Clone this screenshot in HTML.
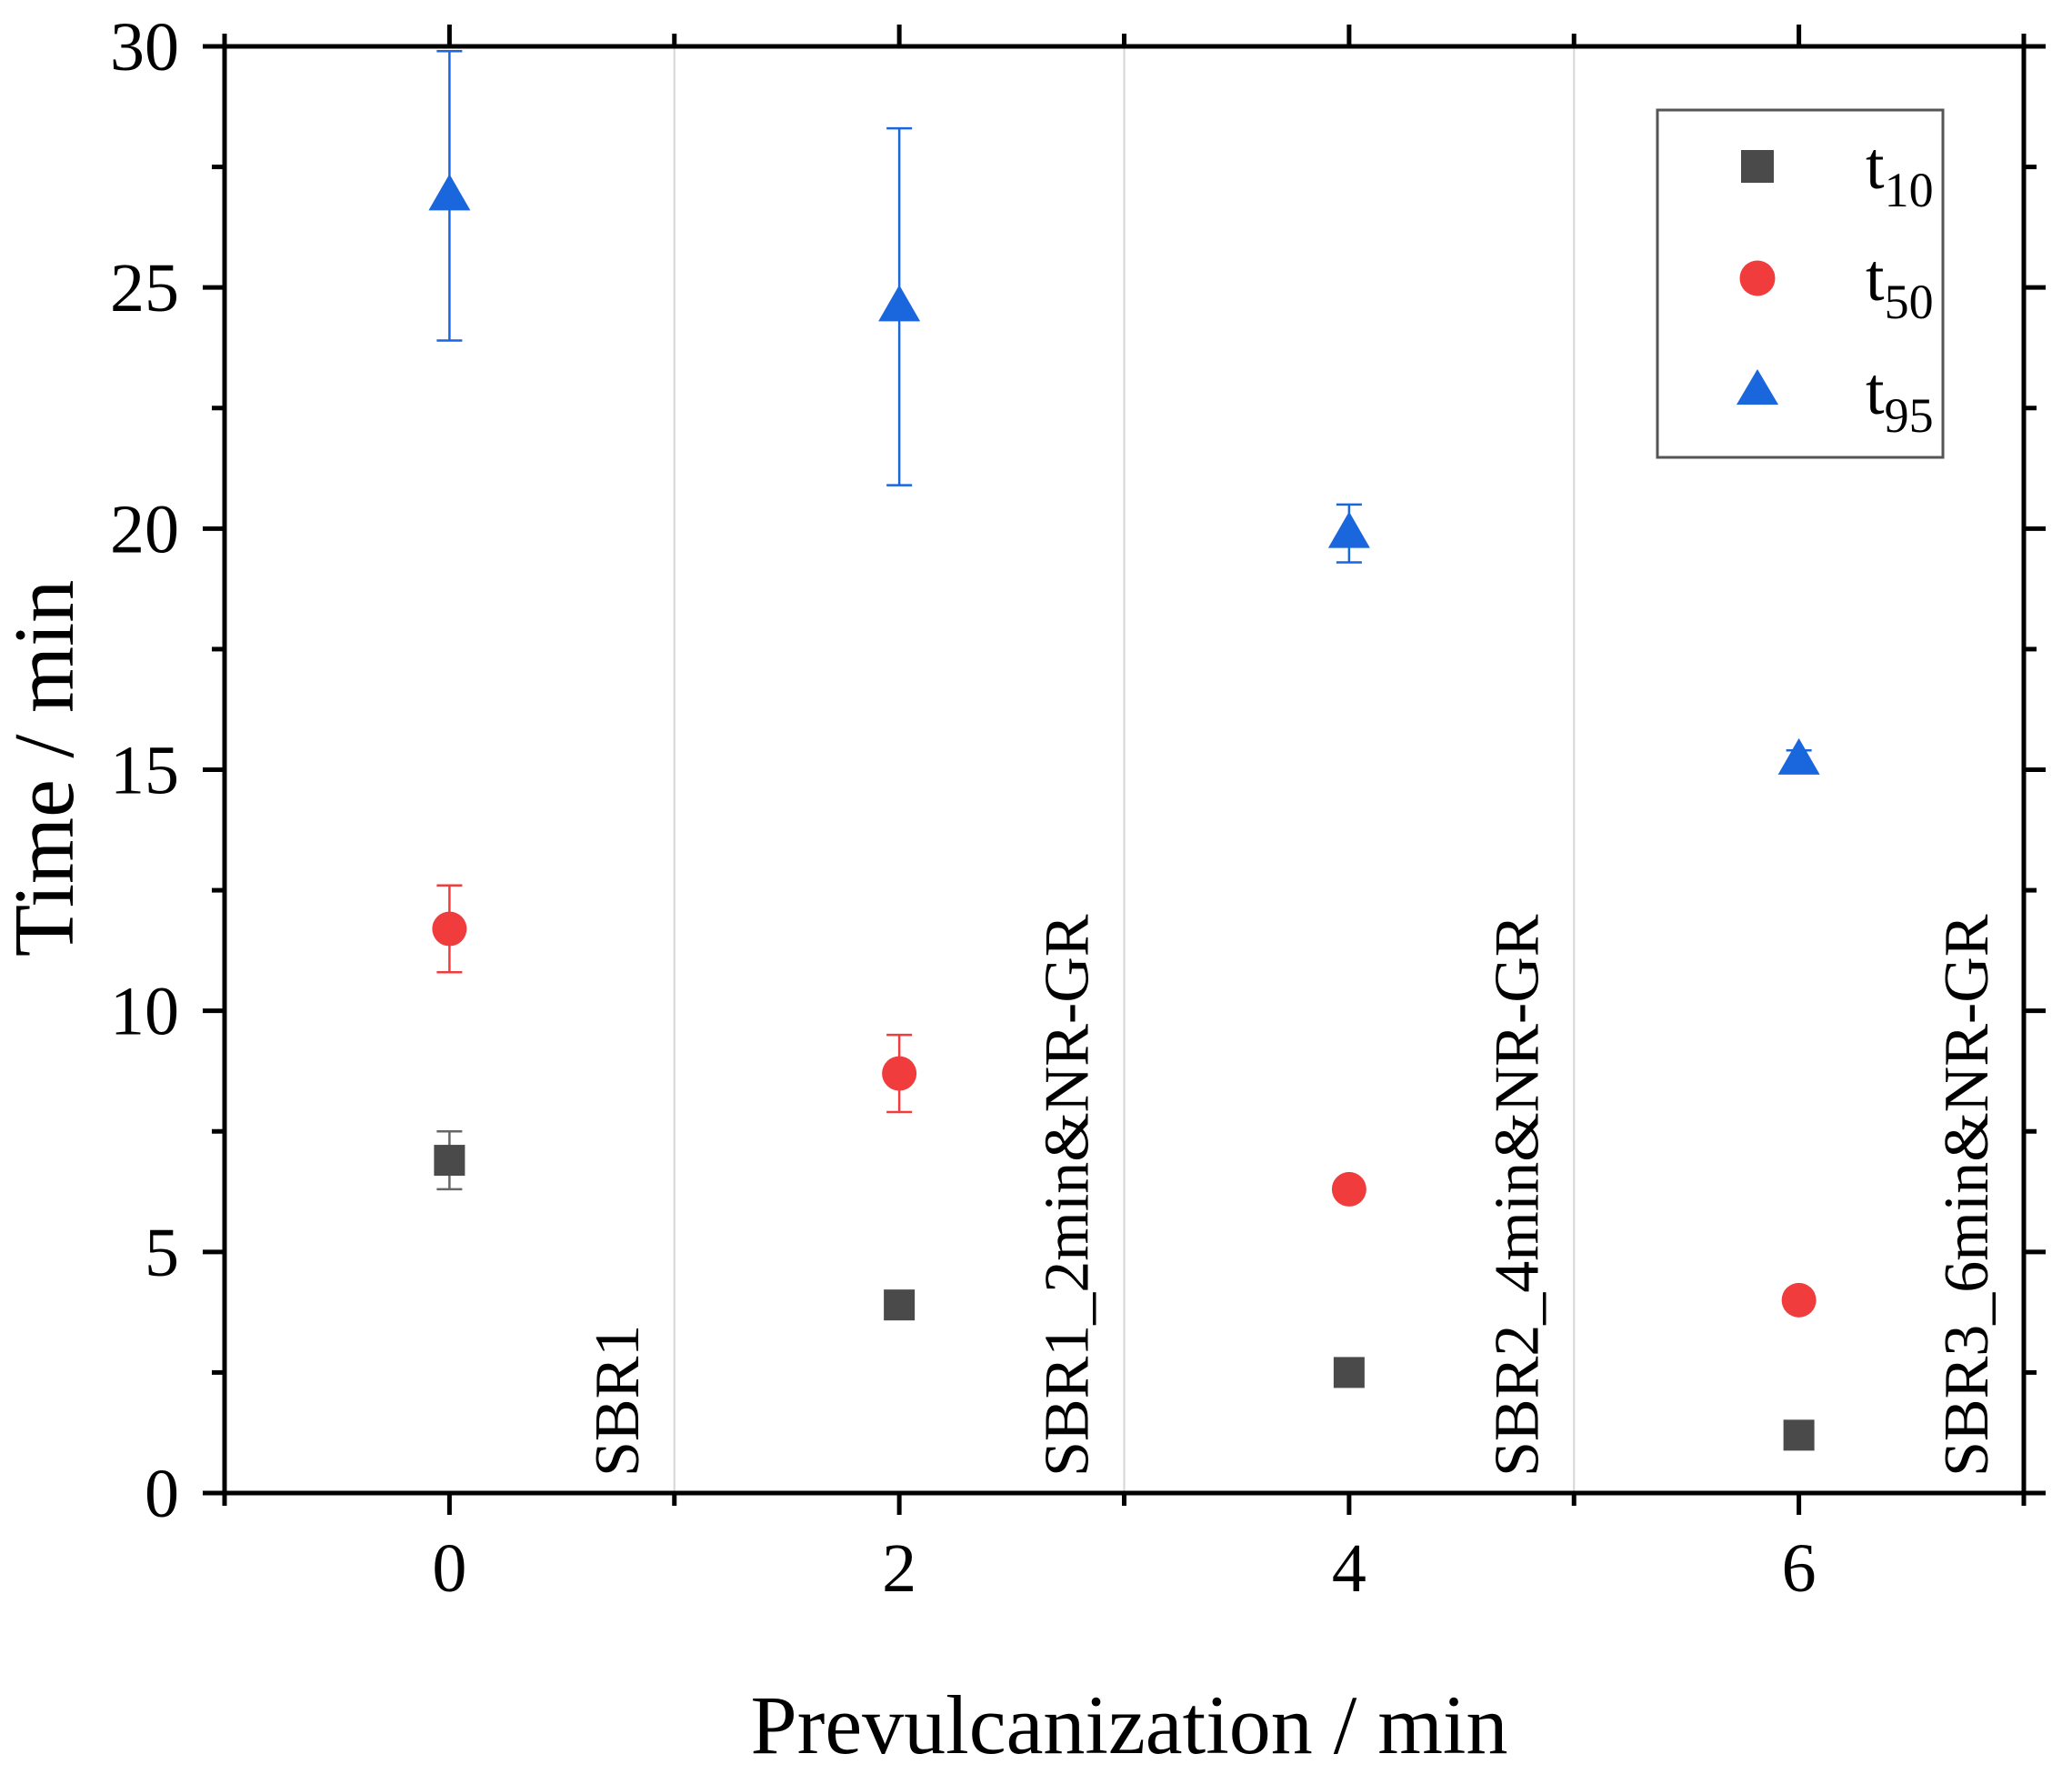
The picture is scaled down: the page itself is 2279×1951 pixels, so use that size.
<!DOCTYPE html>
<html><head><meta charset="utf-8"><style>
html,body{margin:0;padding:0;background:#fff;}
svg{display:block;}
text{font-family:"Liberation Serif",serif;fill:#000;}
</style></head><body>
<svg id="chart" width="2279" height="1951" viewBox="0 0 2279 1951" xmlns="http://www.w3.org/2000/svg">
<g id="grid"></g>
<g id="axes"></g>
<g id="marks"></g>
<g id="legend">
  <rect x="1823" y="121" width="314" height="382" fill="#fff" stroke="#555" stroke-width="3"/>
  <rect x="1915" y="165" width="36" height="36" fill="#4a4a4a"/>
  <text x="2052" y="207" font-size="74">t<tspan font-size="54" dy="20">10</tspan></text>
  <circle cx="1933" cy="306" r="19.5" fill="#f03c3c"/>
  <text x="2052" y="330" font-size="74">t<tspan font-size="54" dy="20">50</tspan></text>
  <polygon points="1933,406 1956,445 1910,445" fill="#1a66dd"/>
  <text x="2052" y="455" font-size="74">t<tspan font-size="54" dy="20">95</tspan></text>
</g>
<text transform="translate(80,845) rotate(-90)" text-anchor="middle" font-size="94">Time / min</text>
<text x="1242" y="1928" text-anchor="middle" font-size="92">Prevulcanization / min</text>
</svg>
<script>
const xValues = [0, 2, 4, 6];
const t10 = [6.9, 3.9, 2.5, 1.2];
const t10Err = [0.6, 0.1, 0.1, 0.1];
const t50 = [11.7, 8.7, 6.3, 4.0];
const t50Err = [0.9, 0.8, 0.1, 0.1];
const t95 = [26.9, 24.6, 19.9, 15.2];
const t95Err = [3.0, 3.7, 0.6, 0.2];
const xTickLabels = ["0", "2", "4", "6"];
const yTickValues = [0, 5, 10, 15, 20, 25, 30];
const sampleLabels = ["SBR1", "SBR1_2min&NR-GR", "SBR2_4min&NR-GR", "SBR3_6min&NR-GR"];

const L = 247, R = 2226, T = 51, B = 1642;
const xMin = -1, xMax = 7, yMin = 0, yMax = 30;
function sx(v){ return L + (v - xMin) / (xMax - xMin) * (R - L); }
function sy(v){ return B - (v - yMin) / (yMax - yMin) * (B - T); }
const NS = "http://www.w3.org/2000/svg";
function mk(tag, attrs, parent){
  const e = document.createElementNS(NS, tag);
  for (const k in attrs) e.setAttribute(k, attrs[k]);
  parent.appendChild(e);
  return e;
}
const grid = document.getElementById('grid');
const axes = document.getElementById('axes');
const marks = document.getElementById('marks');

[1, 3, 5].forEach(v => {
  const l = mk('line', {x1: sx(v), x2: sx(v), y1: T, y2: B, stroke: '#d6d6d6', 'stroke-width': 2}, grid);
  
  
});

const frame = mk('rect', {x: L, y: T, width: R - L, height: B - T, fill: 'none', stroke: '#000', 'stroke-width': 5}, axes);



for (let v = 0; v <= 30; v += 2.5) {
  const major = (v % 5 === 0);
  const len = major ? 24 : 14;
  const t1 = mk('line', {x1: L - len, x2: L, y1: sy(v), y2: sy(v), stroke: '#000', 'stroke-width': 5}, axes);
  
  
  const t2 = mk('line', {x1: R, x2: R + len, y1: sy(v), y2: sy(v), stroke: '#000', 'stroke-width': 5}, axes);
  
  
}
yTickValues.forEach(v => {
  const t = mk('text', {x: L - 50, y: sy(v) + 26, 'text-anchor': 'end', 'font-size': 76}, axes);
  t.textContent = String(v);
  
  
});

for (let v = -1; v <= 7; v += 1) {
  const major = (v % 2 === 0);
  const len = major ? 24 : 14;
  const t1 = mk('line', {x1: sx(v), x2: sx(v), y1: B, y2: B + len, stroke: '#000', 'stroke-width': 5}, axes);
  
  
  const t2 = mk('line', {x1: sx(v), x2: sx(v), y1: T - len, y2: T, stroke: '#000', 'stroke-width': 5}, axes);
  
  
}
xValues.forEach((v, i) => {
  const t = mk('text', {x: sx(v), y: B + 108, 'text-anchor': 'middle', 'font-size': 76}, axes);
  t.textContent = xTickLabels[i];
  
  
});

xValues.forEach((v, i) => {
  const x = sx(v + 0.75) + 22, y = B - 18;
  const t = mk('text', {transform: 'translate(' + x + ',' + y + ') rotate(-90)', 'font-size': 70}, axes);
  t.textContent = sampleLabels[i];
  
  
});

function errBar(x, v, e, color){
  const g = mk('g', {stroke: color, 'stroke-width': 2.5}, marks);
  
  
  mk('line', {x1: x, x2: x, y1: sy(v - e), y2: sy(v + e)}, g);
  mk('line', {x1: x - 14, x2: x + 14, y1: sy(v - e), y2: sy(v - e)}, g);
  mk('line', {x1: x - 14, x2: x + 14, y1: sy(v + e), y2: sy(v + e)}, g);
}

xValues.forEach((xv, i) => {
  const x = sx(xv);
  errBar(x, t10[i], t10Err[i], '#666');
  const s = mk('rect', {x: x - 17, y: sy(t10[i]) - 17, width: 34, height: 34, fill: '#4a4a4a'}, marks);
  
  

  errBar(x, t50[i], t50Err[i], '#f03c3c');
  const c = mk('circle', {cx: x, cy: sy(t50[i]), r: 19, fill: '#f03c3c'}, marks);
  
  

  errBar(x, t95[i], t95Err[i], '#1a66dd');
  const y = sy(t95[i]);
  const p = mk('polygon', {points: x + ',' + (y - 24) + ' ' + (x + 23) + ',' + (y + 16) + ' ' + (x - 23) + ',' + (y + 16), fill: '#1a66dd'}, marks);
  
  
});
</script>
</body></html>
